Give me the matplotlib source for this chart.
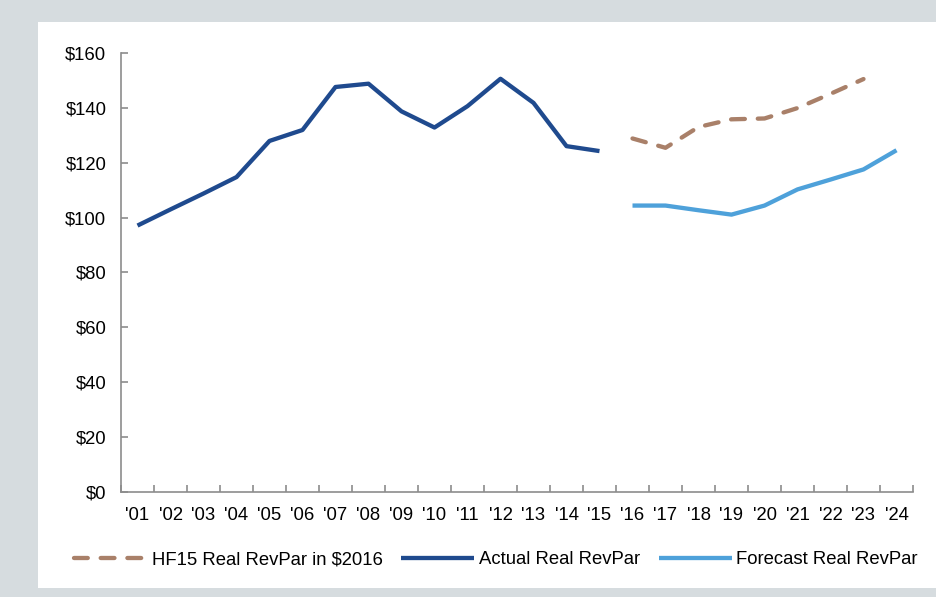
import matplotlib.pyplot as plt
from matplotlib.patches import Rectangle
from matplotlib.ticker import FixedLocator, FuncFormatter

plt.rcParams['font.family'] = ['Liberation Sans', 'DejaVu Sans']

# data
years = ["'01", "'02", "'03", "'04", "'05", "'06", "'07", "'08", "'09", "'10", "'11", "'12",
         "'13", "'14", "'15", "'16", "'17", "'18", "'19", "'20", "'21", "'22", "'23", "'24"]
actual = [97.1, 103.0, 108.8, 114.8, 128.0, 132.0, 147.7, 148.9, 138.8, 132.9, 140.7, 150.7,
          141.9, 126.1, 124.3]
forecast = [104.4, 104.4, 102.7, 101.1, 104.4, 110.3, 113.9, 117.6, 124.6]
hf15 = [128.9, 125.5, 133.1, 135.9, 136.2, 140.0, 145.2, 150.6]

actual_x = list(range(0, 15))
forecast_x = list(range(15, 24))
hf15_x = list(range(15, 23))

fs = 13.3

fig = plt.figure(figsize=(9.36, 5.97), dpi=100)
fig.patch.set_facecolor('#d6dcdf')
# white panel behind the chart
fig.patches.append(Rectangle((38 / 936, 9 / 597), 1, (588 - 22) / 597,
                             transform=fig.transFigure, facecolor='white',
                             edgecolor='none', zorder=-10))

ax = fig.add_axes([121 / 936, (597 - 491.5) / 597, (913 - 121) / 936, (491.5 - 53.3) / 597])
ax.set_facecolor('none')

hf_line, = ax.plot(hf15_x, hf15, color='#a98069', lw=3.1, dash_capstyle='round',
                   label='HF15 Real RevPar in $2016')
hf_line.set_dashes((3.2, 3.0))
ax.plot(actual_x, actual, color='#1f4a8e', lw=3.1, solid_capstyle='butt',
        label='Actual Real RevPar')
ax.plot(forecast_x, forecast, color='#4ea1da', lw=3.1, solid_capstyle='butt',
        label='Forecast Real RevPar')

ax.set_xlim(-0.5, 23.5)
ax.set_ylim(0, 160)

for s in ['top', 'right']:
    ax.spines[s].set_visible(False)
for s in ['left', 'bottom']:
    ax.spines[s].set_color('#8c8c8c')
    ax.spines[s].set_linewidth(1.2)

ax.set_yticks(range(0, 161, 20))
ax.yaxis.set_major_formatter(FuncFormatter(lambda v, p: f'${v:.0f}'))
ax.tick_params(axis='y', direction='in', length=5, color='#8c8c8c', width=1.2,
               labelsize=fs, pad=10.5)

ax.set_xticks(range(24))
ax.set_xticklabels(years)
ax.xaxis.set_minor_locator(FixedLocator([i - 0.5 for i in range(25)]))
ax.tick_params(axis='x', which='major', length=0, labelsize=fs, pad=11.5)
ax.tick_params(axis='x', which='minor', direction='in', length=5, color='#8c8c8c', width=1.2)

fig.legend(loc='center', bbox_to_anchor=(0.53, 0.062), ncol=3, frameon=False,
           fontsize=fs, handlelength=3.95, handletextpad=0.25, columnspacing=1.0)

fig.savefig('out.png', dpi=100, facecolor=fig.get_facecolor())
